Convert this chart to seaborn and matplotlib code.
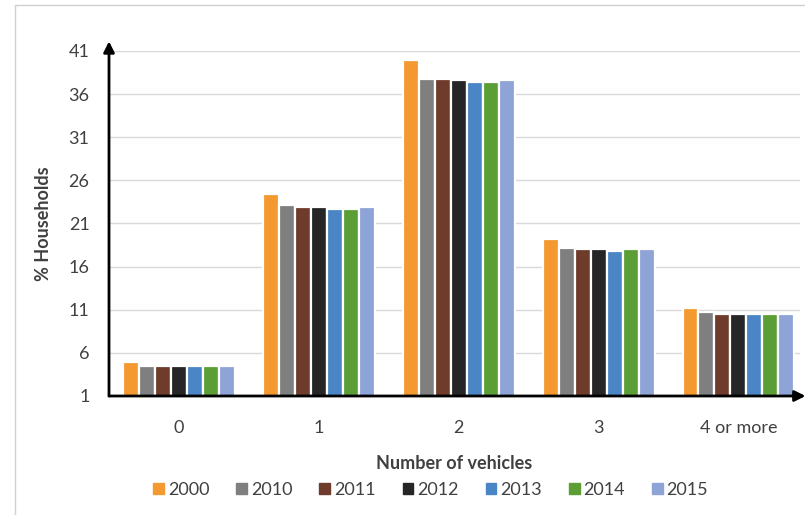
import matplotlib
matplotlib.use("Agg")
import matplotlib.pyplot as plt
import numpy as np
import pandas as pd
import seaborn as sns

# categories and series
categories = ['0', '1', '2', '3', '4 or more']
years = ['2000', '2010', '2011', '2012', '2013', '2014', '2015']
v2000 = [5.0, 24.4, 40.0, 19.2, 11.2]
v2010 = [4.5, 23.1, 37.8, 18.2, 10.7]
v2011 = [4.5, 22.9, 37.8, 18.0, 10.5]
v2012 = [4.5, 22.9, 37.6, 18.0, 10.5]
v2013 = [4.5, 22.7, 37.4, 17.8, 10.5]
v2014 = [4.5, 22.7, 37.4, 18.0, 10.5]
v2015 = [4.5, 22.9, 37.6, 18.0, 10.5]
y_ticks = [1, 6, 11, 16, 21, 26, 31, 36, 41]

colors = ['#F4992F', '#7F7F7F', '#6F3B2A', '#262626', '#4A86C5', '#5B9E35', '#8EA3D6']

series = [v2000, v2010, v2011, v2012, v2013, v2014, v2015]
df = pd.DataFrame([
    {'vehicles': c, 'year': y, 'pct': v}
    for y, vals in zip(years, series)
    for c, v in zip(categories, vals)
])

sns.set_theme(style='white')
plt.rcParams['font.family'] = ['Lato', 'DejaVu Sans']

fig = plt.figure(figsize=(8.05, 5.15), dpi=100)
ax = fig.add_axes([109 / 805, 1 - 396 / 515, 691 / 805, 345 / 515])

sns.barplot(data=df, x='vehicles', y='pct', hue='year', order=categories,
            hue_order=years, palette=colors, width=0.8, ax=ax,
            edgecolor='white', linewidth=1.6, legend=False, saturation=1)

ax.set_xlim(-0.5, 4.44)
ax.set_ylim(1, 41)
ax.set_yticks(y_ticks)
ax.yaxis.grid(True, color='#D9D9D9', linewidth=1)
ax.set_axisbelow(True)
ax.tick_params(axis='both', length=0, labelsize=13, colors='#404040')
ax.tick_params(axis='y', pad=14)
ax.tick_params(axis='x', pad=17)

for s in ['top', 'right', 'left', 'bottom']:
    ax.spines[s].set_visible(False)

# arrowed axes
ax.annotate('', xy=(0, 1.028), xycoords='axes fraction', xytext=(0, 0),
            arrowprops=dict(arrowstyle='-|>', color='black', lw=2,
                            mutation_scale=16, shrinkA=0, shrinkB=0),
            annotation_clip=False)
ax.annotate('', xy=(1.008, 0), xycoords='axes fraction', xytext=(0, 0),
            arrowprops=dict(arrowstyle='-|>', color='black', lw=2,
                            mutation_scale=16, shrinkA=0, shrinkB=0),
            annotation_clip=False)

ax.set_ylabel('% Households', fontsize=13, fontweight='bold', color='#404040', labelpad=12)
ax.set_xlabel('Number of vehicles', fontsize=13, fontweight='bold', color='#404040', labelpad=14)

handles = [plt.Rectangle((0, 0), 1, 1, color=c) for c in colors]
fig.legend(handles, years, loc='center', bbox_to_anchor=(0.535, 1 - 490 / 515),
           ncol=7, frameon=False, fontsize=13, handlelength=0.6, handleheight=0.6,
           handletextpad=0.2, columnspacing=1.5, labelcolor='#404040')

# light outer frame like the screenshot
fig.add_artist(plt.Line2D([15 / 805, 15 / 805], [0, 1 - 5 / 515], color='#D0D0D0', lw=1))
fig.add_artist(plt.Line2D([15 / 805, 1], [1 - 5 / 515, 1 - 5 / 515], color='#D0D0D0', lw=1))

fig.savefig('out.png', dpi=100)
